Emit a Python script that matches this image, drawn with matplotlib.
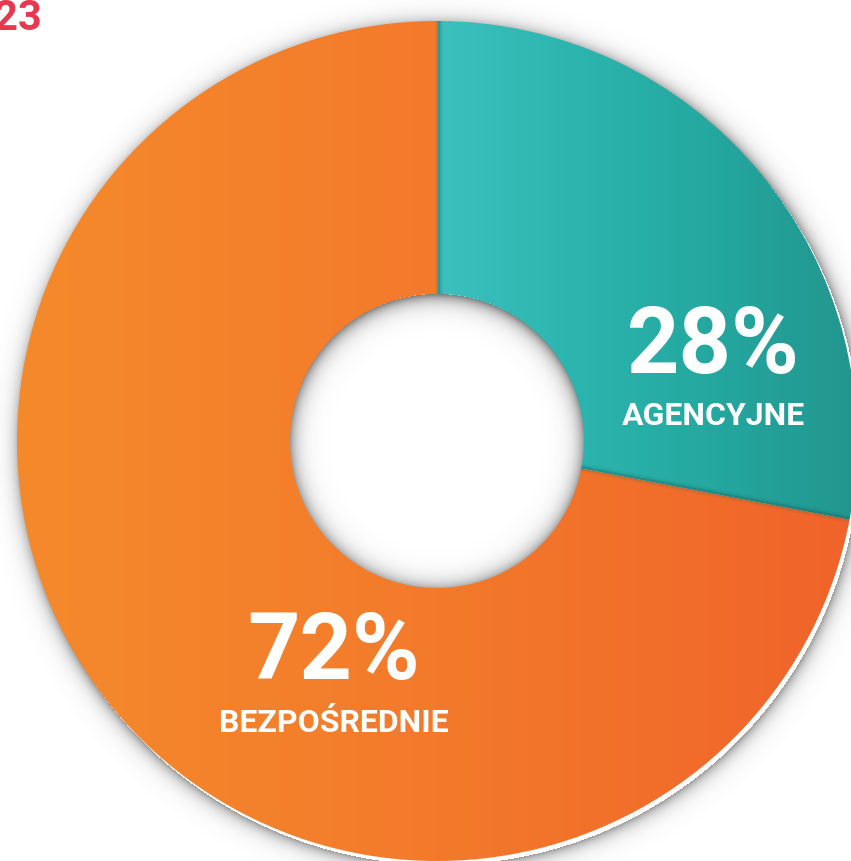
import numpy as np
import matplotlib
matplotlib.use("Agg")
import matplotlib.pyplot as plt
from matplotlib.colors import LinearSegmentedColormap

# dane
kategorie = ["AGENCYJNE", "BEZPOŚREDNIE"]
udzialy = [28, 72]
etykiety = ["28%", "72%"]
rok = "2023"

# wymiary w pikselach
W, H = 851, 861
cx, cy = 437, H - 441
R, r = 420, 147

fig = plt.figure(figsize=(W / 100, H / 100), dpi=100)
ax = fig.add_axes([0, 0, 1, 1])

# cień wokół pierścienia i w otworze
xx, yy = np.meshgrid(np.arange(W) + 0.5, np.arange(H) + 0.5)
d = np.hypot(xx - (cx + 3), yy - (cy - 4))
alfa = np.zeros_like(d)
zew = d > R
alfa[zew] = 0.6 * np.exp(-(d[zew] - R) / 7.0)
d2 = np.hypot(xx - cx, yy - (cy - 2))
wew = d2 < r + 2
alfa[wew] = np.clip(0.8 * np.exp(-np.clip(r + 2 - d2[wew], 0, None) / 8.0), 0, 0.8)
cien = np.zeros((H, W, 4))
cien[..., :3] = 0.35
cien[..., 3] = alfa
ax.imshow(cien, extent=(0, W, 0, H), origin="lower", zorder=1)

wedges, _ = ax.pie(udzialy, startangle=90, counterclock=False, center=(cx, cy),
                   radius=R, wedgeprops=dict(width=R - r, linewidth=0),
                   frame=True)
ax.set_xlim(0, W)
ax.set_ylim(0, H)
ax.set_aspect("equal")
ax.axis("off")

gradienty = [
    LinearSegmentedColormap.from_list("teal", ["#3DC0BE", "#2BB5AE", "#24A79F", "#22968E"]),
    LinearSegmentedColormap.from_list("orange", ["#F58A2B", "#F37A2B", "#F0632A"]),
]
zakresy = [(cx, cx + R), (cx - R, cx + R)]
grad = np.linspace(0, 1, 256).reshape(1, -1)
for w, cm, (x0, x1) in zip(wedges, gradienty, zakresy):
    w.set_facecolor("none")
    w.set_zorder(2)
    im = ax.imshow(grad, cmap=cm, extent=(x0, x1, cy - R, cy + R),
                   origin="lower", aspect="auto", zorder=2)
    im.set_clip_path(w)

# cienie na krawędziach klinów
for lw, a in [(6, 0.08), (3, 0.15), (1.5, 0.2)]:
    ax.plot([cx + 2, cx + 2], [cy + r, cy + R], color="#145a56", alpha=a, lw=lw,
            zorder=3, solid_capstyle="butt")
kat = np.deg2rad(90 - 360 * udzialy[0] / 100)
for lw, a in [(6, 0.08), (3, 0.15), (1.5, 0.2)]:
    ax.plot([cx + r * np.cos(kat), cx + R * np.cos(kat)],
            [cy + r * np.sin(kat) + 1, cy + R * np.sin(kat) + 1],
            color="#145a56", alpha=a, lw=lw, zorder=3, solid_capstyle="butt")

font = "Roboto"
ax.text(713, H - 347, etykiety[0], color="white", fontsize=66, fontweight="bold",
        family=font, ha="center", va="center", zorder=5)
ax.text(713, H - 416, kategorie[0], color="white", fontsize=23, fontweight="bold",
        family=font, ha="center", va="center", zorder=5)
ax.text(334, H - 653, etykiety[1], color="white", fontsize=66, fontweight="bold",
        family=font, ha="center", va="center", zorder=5)
ax.text(334, H - 723, kategorie[1], color="white", fontsize=23, fontweight="bold",
        family=font, ha="center", va="center", zorder=5)

ax.text(42, H - 18, rok, color="#E8384F", fontsize=30, fontweight="bold",
        family=font, ha="right", va="center", zorder=5)

fig.savefig("out.png", dpi=100)
